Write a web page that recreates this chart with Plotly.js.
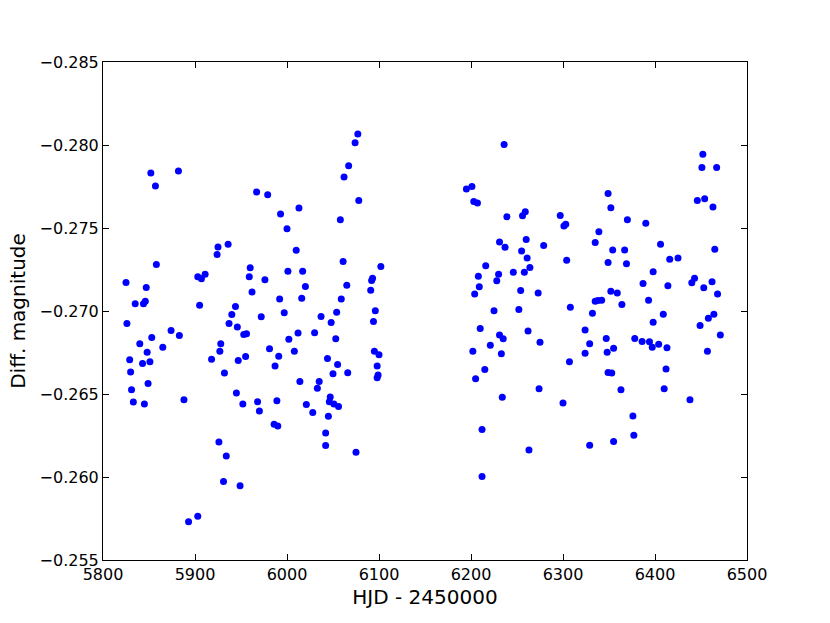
<!DOCTYPE html>
<html>
<head>
<meta charset="utf-8">
<script src="https://cdn.plot.ly/plotly-3.0.1.min.js"></script>
<style>html,body{margin:0;padding:0;background:#fff;}#plot{width:830px;height:623px;}</style>
</head>
<body>
<div id="plot"></div>
<script>
// HJD - 2450000 (first observing season)
const hjdSeason1 = [
5852,5882,5857,5936,5925,5924,5858,5960,5825,5903,5907,5911,5959,5847,5962,5835,5844,5846,5905,5944,
5940,5826,5874,5937,5946,5883,5853,5840,5848,5865,5953,5956,5928,5927,5918,5947,5955,5829,5843,5851,
5830,5932,5849,5831,5945,5833,5845,5888,5952,5926,5934,5931,5949,5903,5893,6077,6074,6067,6062,6078,
5967,5979,6013,5993,6058,6000,6010,6061,6102,6001,6017,5976,6020,6065,6093,6092,6091,5992,6016,6059,
5997,5972,6037,6054,6048,6096,6094,6012,6030,6002,6053,5981,5991,6008,5987,6044,6055,6050,6066,6095,
6100,6098,6099,6098,6014,6035,6033,5968,5989,5970,6021,6028,6047,6046,6051,6056,6045,5986,5990,6042,
6042,6075
];
const magSeason1 = [
-0.27831,-0.27843,-0.27753,-0.27402,-0.27386,-0.27340,-0.27280,-0.27260,-0.27171,-0.27207,-0.27195,-0.27221,-0.27207,-0.27141,-0.27115,-0.27043,-0.27043,-0.27059,-0.27035,-0.27027,
-0.26979,-0.26925,-0.26883,-0.26925,-0.26903,-0.26853,-0.26841,-0.26803,-0.26752,-0.26782,-0.26859,-0.26863,-0.26803,-0.26757,-0.26710,-0.26702,-0.26726,-0.26707,-0.26684,-0.26695,
-0.26632,-0.26626,-0.26564,-0.26526,-0.26506,-0.26452,-0.26440,-0.26466,-0.26440,-0.26211,-0.26127,-0.25973,-0.25947,-0.25763,-0.25730,-0.28067,-0.28013,-0.27875,-0.27807,-0.27666,
-0.27717,-0.27700,-0.27620,-0.27584,-0.27550,-0.27496,-0.27366,-0.27298,-0.27268,-0.27239,-0.27239,-0.27188,-0.27147,-0.27155,-0.27197,-0.27183,-0.27125,-0.27073,-0.27077,-0.27073,
-0.26989,-0.26965,-0.26967,-0.26993,-0.26931,-0.27001,-0.26937,-0.26867,-0.26869,-0.26830,-0.26833,-0.26773,-0.26728,-0.26758,-0.26668,-0.26714,-0.26678,-0.26622,-0.26628,-0.26758,
-0.26737,-0.26668,-0.26614,-0.26598,-0.26576,-0.26576,-0.26534,-0.26454,-0.26460,-0.26398,-0.26436,-0.26388,-0.26482,-0.26454,-0.26440,-0.26424,-0.26366,-0.26318,-0.26307,-0.26265,
-0.26190,-0.26149
];
// second observing season
const hjdSeason2 = [
6236,6195,6201,6203,6207,6239,6259,6256,6297,6303,6301,6339,6335,6231,6237,6260,6279,6255,6261,6264,
6304,6216,6208,6230,6228,6246,6258,6209,6204,6254,6273,6225,6252,6308,6335,6338,6342,6332,6210,6262,
6324,6231,6235,6221,6275,6329,6202,6233,6324,6307,6215,6205,6274,6234,6300,6212,6329,6263,6212,6452,
6451,6467,6349,6352,6446,6454,6463,6370,6390,6406,6354,6367,6416,6425,6465,6349,6369,6398,6387,6414,
6443,6440,6453,6462,6468,6352,6359,6364,6393,6409,6398,6464,6458,6449,6347,6355,6348,6378,6386,6394,
6397,6404,6413,6471,6457,6412,6349,6353,6363,6410,6438,6376,6377,6355
];
const magSeason2 = [
-0.28003,-0.27735,-0.27750,-0.27660,-0.27650,-0.27568,-0.27598,-0.27574,-0.27576,-0.27522,-0.27512,-0.27478,-0.27412,-0.27416,-0.27384,-0.27430,-0.27394,-0.27362,-0.27320,-0.27262,
-0.27305,-0.27272,-0.27209,-0.27221,-0.27182,-0.27233,-0.27233,-0.27146,-0.27103,-0.27123,-0.27109,-0.27001,-0.27009,-0.27023,-0.27059,-0.27063,-0.27065,-0.26987,-0.26895,-0.26880,
-0.26885,-0.26855,-0.26833,-0.26794,-0.26811,-0.26803,-0.26757,-0.26743,-0.26746,-0.26695,-0.26647,-0.26592,-0.26532,-0.26480,-0.26446,-0.26286,-0.26191,-0.26163,-0.26003,-0.27945,
-0.27865,-0.27865,-0.27708,-0.27622,-0.27666,-0.27676,-0.27626,-0.27550,-0.27528,-0.27402,-0.27368,-0.27368,-0.27311,-0.27320,-0.27372,-0.27292,-0.27284,-0.27236,-0.27165,-0.27152,
-0.27197,-0.27170,-0.27140,-0.27176,-0.27103,-0.27119,-0.27109,-0.27039,-0.27065,-0.26981,-0.26932,-0.26981,-0.26957,-0.26913,-0.26835,-0.26776,-0.26751,-0.26835,-0.26817,-0.26815,
-0.26782,-0.26799,-0.26779,-0.26855,-0.26757,-0.26650,-0.26630,-0.26626,-0.26526,-0.26532,-0.26466,-0.26368,-0.26252,-0.26214
];
const xTickVals = [5800,5900,6000,6100,6200,6300,6400,6500];
const yTickVals = [-0.285,-0.280,-0.275,-0.270,-0.265,-0.260,-0.255];
const yTickText = ['\u22120.285','\u22120.280','\u22120.275','\u22120.270','\u22120.265','\u22120.260','\u22120.255'];

const hjd = hjdSeason1.concat(hjdSeason2);
const mag = magSeason1.concat(magSeason2);

const trace = {
  x: hjd, y: mag, type: 'scatter', mode: 'markers',
  marker: {color: '#0000ff', size: 7, line: {width: 0}},
  hoverinfo: 'x+y'
};
const axisCommon = {
  showgrid: false, zeroline: false, showline: true, linecolor: '#000', linewidth: 1,
  mirror: 'ticks', ticks: 'inside', ticklen: 6, tickwidth: 1, tickcolor: '#000',
  tickfont: {family: 'DejaVu Sans', size: 16, color: '#000'}
};
const layout = {
  width: 830, height: 623,
  paper_bgcolor: '#fff', plot_bgcolor: '#fff',
  margin: {l: 103, r: 83, t: 62, b: 63},
  showlegend: false,
  xaxis: Object.assign({}, axisCommon, {
    range: [5800, 6500], tickvals: xTickVals, ticktext: xTickVals.map(String),
    title: {text: 'HJD - 2450000', font: {family: 'DejaVu Sans', size: 20, color: '#000'}, standoff: 6}
  }),
  yaxis: Object.assign({}, axisCommon, {
    range: [-0.255, -0.285], tickvals: yTickVals, ticktext: yTickText,
    title: {text: 'Diff. magnitude', font: {family: 'DejaVu Sans', size: 20, color: '#000'}, standoff: 8}
  })
};
Plotly.newPlot('plot', [trace], layout, {displayModeBar: false, staticPlot: true});
</script>
</body>
</html>
